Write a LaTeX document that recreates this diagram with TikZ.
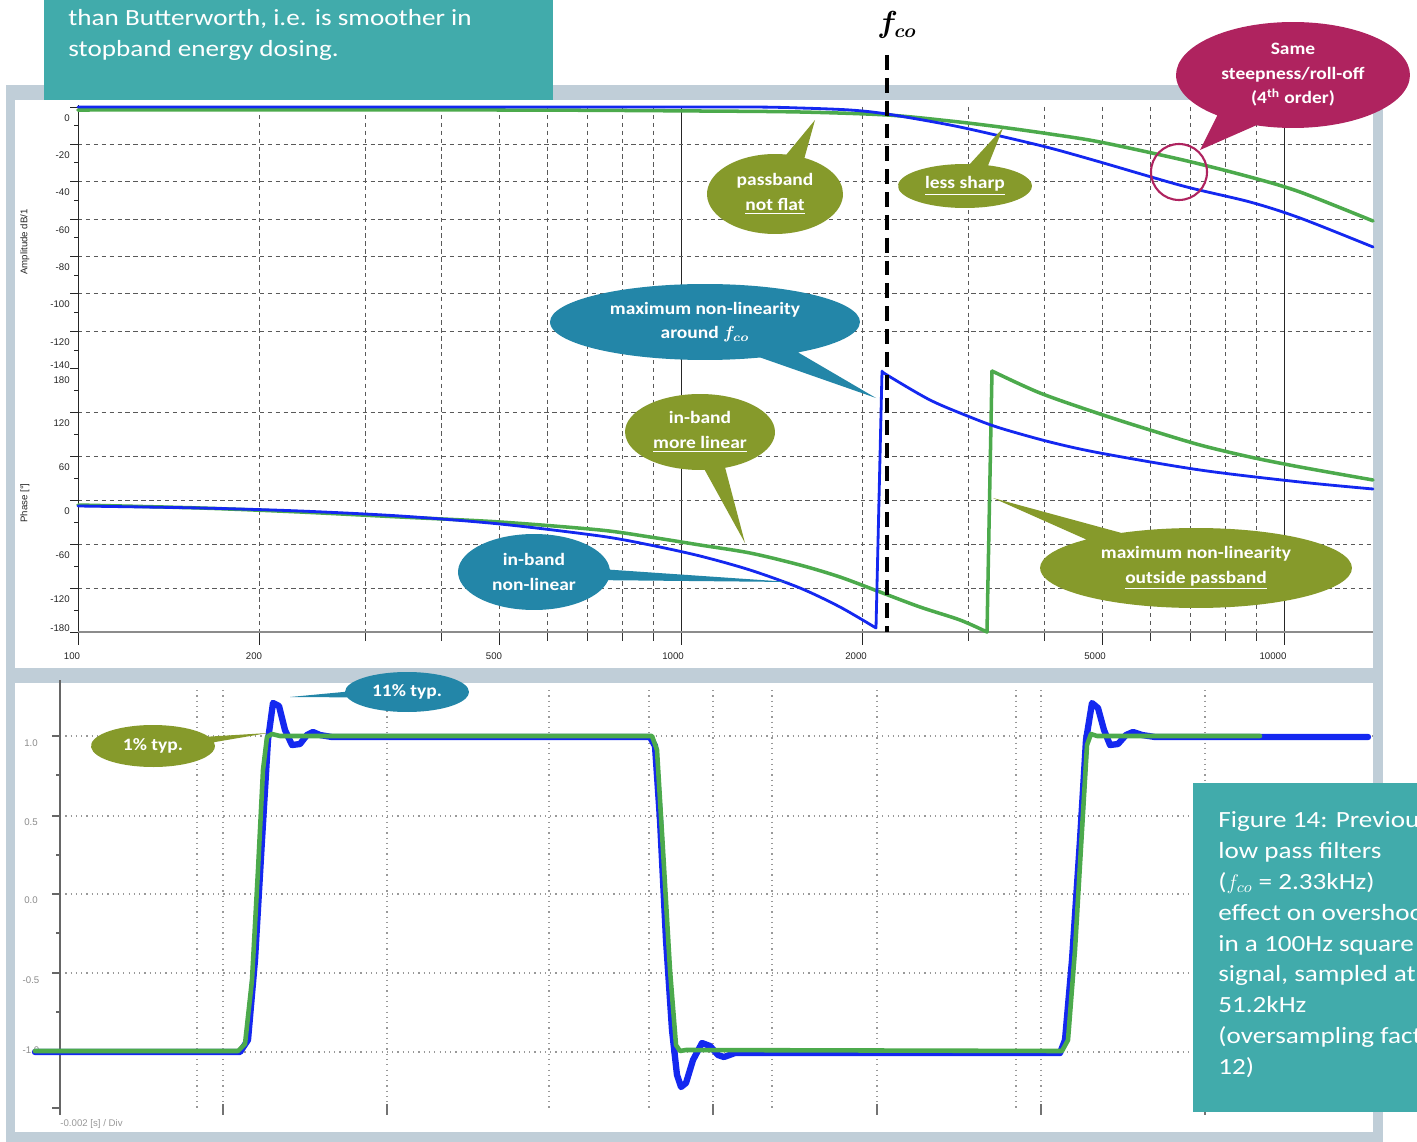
\documentclass[tikz,border=0pt]{standalone}
\usepackage{amsmath}
\usepackage{fontspec}
\setmainfont{Carlito}[FakeStretch=1.12]
\newfontfamily\notefont{Carlito}[FakeStretch=1.17]
\newfontfamily\tickfont{Liberation Sans}
\usetikzlibrary{shapes.callouts}
\definecolor{boxteal}{HTML}{41ABAB}
\definecolor{framegrey}{HTML}{C0CED8}
\definecolor{calloutolive}{HTML}{869A2B}
\definecolor{calloutblue}{HTML}{2386A8}
\definecolor{calloutmagenta}{HTML}{AF235F}
\definecolor{traceblue}{HTML}{1428F0}
\definecolor{tracegreen}{HTML}{4CAA4C}
\tikzset{
  bubble/.style={ellipse callout, inner sep=0pt, text=white, align=center,
    font=\fontsize{9.9}{14}\selectfont\bfseries, callout pointer arc=16},
  gridline/.style={black!65, line width=0.4pt, dash pattern=on 2.5pt off 2pt},
  dotgrid/.style={black!40, line width=0.7pt, dash pattern=on 0.7pt off 2.3pt},
  trace/.style={line width=1.8pt, line join=round, line cap=round},
  ticklabel/.style={font=\tickfont\fontsize{5.5}{6}\selectfont, text=black!85, inner sep=0pt},
  notetext/.style={text=white, align=left, anchor=north west, inner sep=0pt,
    font=\notefont\fontsize{13.2}{17.6}\selectfont},
}

\begin{document}
\begin{tikzpicture}[x=0.02cm, y=-0.02cm]
\useasboundingbox (0,0) rectangle (1417,1142);
% panels
\fill[framegrey] (6,85) rectangle (1383,1142);
\fill[white] (15,100) rectangle (1373,668);
\fill[white] (15,683) rectangle (1373,1132);

% frequency response: grid and axes
\foreach \f in {200,300,...,900,2000,3000,...,9000}{
  \pgfmathsetmacro{\gx}{78+603*log10(\f/100)}
  \draw[gridline] (\gx,107) -- (\gx,632);
  \draw[black!80] (\gx,632) -- (\gx,641);
}
\foreach \f in {1000,10000}{
  \pgfmathsetmacro{\gx}{78+603*log10(\f/100)}
  \draw[black!85, line width=0.5pt] (\gx,107) -- (\gx,632);
}
\foreach \f in {100,200,500,1000,2000,5000,10000}{
  \pgfmathsetmacro{\gx}{78+603*log10(\f/100)}
  \draw[black!85, line width=0.5pt] (\gx,632) -- (\gx,645);
}
\foreach \y in {144,181,219,256,293,331,412,456,500,544,588}
  \draw[gridline] (78,\y) -- (1373,\y);
\foreach \y in {107,144,181,219,256,293,331,368,412,456,500,544,588,632}
  \draw[black!85] (70,\y) -- (78,\y);
\foreach \y in {125,162,200,237,275,312,350,390,434,478,522,566,610}
  \draw[black!85] (74,\y) -- (78,\y);
\draw[black!85, line width=0.5pt] (78,105) -- (78,632);
\draw[black!45, line width=1pt] (78,632) -- (1373,632);

\foreach \v/\y in {0/118,-20/155,-40/192,-60/230,-80/267,-100/304,-120/342,-140/365,
  180/380,120/423,60/467,0/511,-60/555,-120/599,-180/628}
  \node[ticklabel, anchor=east] at (70,\y) {\v};
\foreach \v/\x in {100/72,200/254,500/494,1000/673,2000/856,5000/1095,10000/1273}
  \node[ticklabel] at (\x,656) {\v};
\node[ticklabel, rotate=90] (amptitle) at (25,242) {Amplitude dB/1};
\node[ticklabel, rotate=90] (phasetitle) at (25,503) {Phase [°]};

% amplitude
\draw[trace, tracegreen, line width=2pt] plot[smooth] coordinates {(78,110) (500,110) (700,111)
  (800,112) (887,115) (950,121) (1000,127) (1050,134) (1100,142) (1183,160) (1250,177)
  (1300,192) (1373,221)};
\draw[trace, traceblue, line width=1.6pt] plot[smooth] coordinates {(78,107) (600,107) (750,107)
  (800,108) (850,110) (887,114) (950,125) (1000,136) (1050,148) (1100,162) (1183,186)
  (1250,202) (1300,218) (1373,247)};

% phase
\draw[trace, tracegreen, line width=2pt] plot[smooth] coordinates {(78,505) (200,508) (300,512)
  (400,517) (500,522) (600,530) (650,537) (700,545) (750,553) (800,565) (840,577) (880,592)
  (920,607) (960,620) (987,632)}
  -- (992,371) plot[smooth] coordinates {(992,371) (1040,393) (1100,414) (1150,430)
  (1200,445) (1250,457) (1300,467) (1373,480)};
\draw[trace, traceblue, line width=1.6pt] plot[smooth] coordinates {(78,506) (200,508) (300,511)
  (400,516) (500,524) (600,536) (650,545) (700,556) (750,570) (800,588) (840,607) (876,628)}
  -- (882,371) plot[smooth] coordinates {(882,371) (887,375) (930,400) (970,417) (1000,428)
  (1050,442) (1100,453) (1200,470) (1300,482) (1373,489)};

% cut-off frequency
\node[font=\fontsize{16}{18}\selectfont] (fco) at (897,25) {$\boldsymbol{f_{co}}$};
\coordinate (fcotop) at (887,55);
\coordinate (fcobot) at (887,632);
\draw[black, line width=2.2pt, dash pattern=on 8.5pt off 4.5pt] (fcotop) -- (fcobot);

% step response
\foreach \y in {736,816,894,973,1052}
  \draw[dotgrid] (60,\y) -- (1373,\y);
\foreach \x in {197,223,387,549,649,713,772,877,1016,1041,1205}
  \draw[dotgrid] (\x,690) -- (\x,1110);
\foreach \x in {223,387,713,877,1041,1205}
  \draw[black!55, line width=0.8pt] (\x,1104) -- (\x,1115);
\draw[black!60, line width=1pt] (60,680) -- (60,1115);
\foreach \y in {736,816,894,973,1052,1108}
  \draw[black!60, line width=0.8pt] (52,\y) -- (60,\y);
\foreach \y in {775,855,933,1012}
  \draw[black!60, line width=0.8pt] (56,\y) -- (60,\y);
\foreach \v/\y in {1.0/743,0.5/822,0.0/900,-0.5/980,-1.0/1050}
  \node[ticklabel, text=black!45] at (31,\y) {\v};
\node[ticklabel, text=black!40, anchor=west] (timelabel) at (60,1124) {-0.002 [s] / Div};

\draw[trace, traceblue, line width=3.6pt] (35,1052) -- (240,1052) -- (248,1040) -- (255,960)
  -- (262,840) -- (268,740) -- (273,703) -- (279,706) -- (285,730) -- (292,745) -- (300,744)
  -- (307,735) -- (313,732) -- (320,735) -- (332,737) -- (650,737) -- (655,746) -- (660,820)
  -- (666,940) -- (672,1030) -- (677,1075) -- (681,1087) -- (686,1083) -- (693,1060)
  -- (702,1043) -- (710,1046) -- (718,1055) -- (724,1057) -- (735,1053) -- (1060,1053)
  -- (1065,1040) -- (1072,960) -- (1080,840) -- (1086,740) -- (1092,703) -- (1098,708)
  -- (1104,730) -- (1110,745) -- (1118,744) -- (1126,735) -- (1133,732) -- (1142,735)
  -- (1155,737) -- (1368,737);
\draw[trace, tracegreen, line width=2.6pt] (35,1051) -- (238,1051) -- (245,1044) -- (252,980)
  -- (258,870) -- (263,770) -- (267,737) -- (272,734) -- (280,736) -- (652,736) -- (657,750)
  -- (663,850) -- (670,970) -- (676,1045) -- (680,1051) -- (686,1050) -- (1062,1051)
  -- (1068,1040) -- (1075,950) -- (1082,830) -- (1087,745) -- (1091,734) -- (1097,736)
  -- (1260,736);

% notes
\fill[boxteal] (44,-10) rectangle (553,100);
\node[notetext] (topnote) at (68,9) {than Butterworth, i.e. is smoother in\\stopband energy dosing.};
\fill[boxteal] (1193,783) rectangle (1430,1112);
\node[notetext] (caption) at (1218,811) {Figure 14: Previous\\low pass filters\\($f_{co}$ = 2.33kHz)\\effect on overshoot\\in a 100Hz square\\signal, sampled at\\51.2kHz\\(oversampling factor\\12)};

% callouts
\draw[calloutmagenta, line width=1.2pt] (1179,172) circle [radius=0.56cm];
\coordinate (sametip) at (1200,150);
\coordinate (flattip) at (815,120);
\coordinate (sharptip) at (1003,128);
\coordinate (aroundtip) at (876,398);
\coordinate (lineartip) at (745,543);
\coordinate (nonlineartip) at (790,582);
\coordinate (outsidetip) at (993,498);
\coordinate (elevtip) at (290,697);
\coordinate (onetip) at (268,733);
\node[bubble, fill=calloutolive, minimum width=2.72cm, minimum height=1.6cm,
  callout absolute pointer={(flattip)}] (passband) at (775,194) {passband\\\underline{not flat}};
\node[bubble, fill=calloutolive, minimum width=2.68cm, minimum height=0.88cm,
  callout absolute pointer={(sharptip)}] (lesssharp) at (965,186) {\underline{less sharp}};
\node[bubble, fill=calloutmagenta, minimum width=4.68cm, minimum height=2.12cm,
  callout absolute pointer={(sametip)}, callout pointer arc=22] (steepness) at (1293,75) {Same\\steepness/roll-off\\(4\textsuperscript{th} order)};
\node[bubble, fill=calloutblue, minimum width=6.2cm, minimum height=1.52cm,
  callout absolute pointer={(aroundtip)}] (aroundfco) at (705,322) {maximum non-linearity\\around $\boldsymbol{f_{co}}$};
\node[bubble, fill=calloutolive, minimum width=3cm, minimum height=1.52cm,
  callout absolute pointer={(lineartip)}] (morelinear) at (700,432) {in-band\\\underline{more linear}};
\node[bubble, fill=calloutblue, minimum width=3.04cm, minimum height=1.52cm,
  callout absolute pointer={(nonlineartip)}] (nonlinear) at (534,572) {in-band\\non-linear};
\node[bubble, fill=calloutolive, minimum width=6.24cm, minimum height=1.6cm,
  callout absolute pointer={(outsidetip)}] (outside) at (1196,568) {maximum non-linearity\\\underline{outside passband}};
\node[bubble, fill=calloutblue, minimum width=2.48cm, minimum height=0.8cm,
  callout absolute pointer={(elevtip)}] (elevenpct) at (407,692) {11\% typ.};
\node[bubble, fill=calloutolive, minimum width=2.48cm, minimum height=0.84cm,
  callout absolute pointer={(onetip)}] (onepct) at (153,746) {1\% typ.};
\end{tikzpicture}
\end{document}
